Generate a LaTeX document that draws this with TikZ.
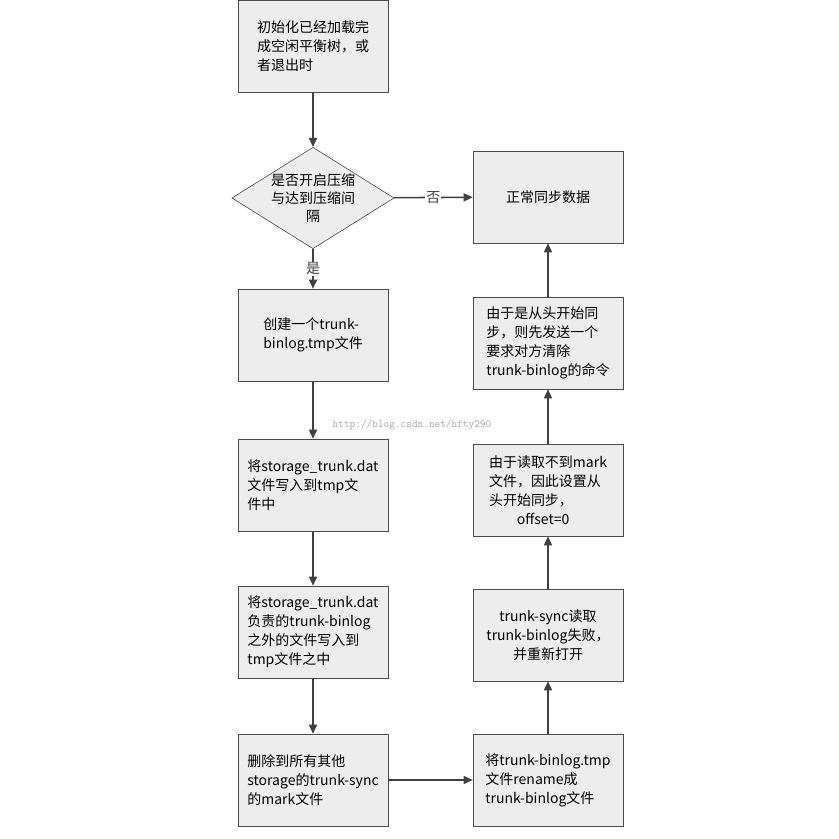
\documentclass[tikz,border=0pt]{standalone}
\usepackage{fontspec}
\setmainfont{Noto Sans CJK SC}
\usetikzlibrary{shapes.geometric,arrows.meta}
\begin{document}
\begin{tikzpicture}[x=1pt,y=-1pt,
  box/.style={draw=black!70,fill=black!7,minimum width=150pt,minimum height=92pt,align=left,font=\fontsize{14}{19}\selectfont,inner sep=4pt,line width=0.6pt},
  arr/.style={-{Triangle[length=9pt,width=8pt]},line width=1.6pt,black!75},
  lbl/.style={font=\fontsize{14}{16}\selectfont,fill=white,inner sep=1pt}]
\useasboundingbox (0,0) rectangle (839,839);
\node[box] (b1) at (313,46) {初始化已经加载完\\成空闲平衡树，或\\者退出时};
\node[draw=black!70,fill=black!7,diamond,aspect=1.6,minimum width=150pt,minimum height=96pt,inner sep=0pt,align=center,font=\fontsize{14}{18}\selectfont,line width=0.6pt] (d) at (313,198) {是否开启压缩\\与达到压缩间\\隔};
\node[box] (b2) at (313,335) {创建一个trunk-\\binlog.tmp文件};
\node[box] (b3) at (313,485) {将storage\_trunk.dat\\文件写入到tmp文\\件中};
\node[box] (b4) at (313,632) {将storage\_trunk.dat\\负责的trunk-binlog\\之外的文件写入到\\tmp文件之中};
\node[box] (b5) at (313,780) {删除到所有其他\\storage的trunk-sync\\的mark文件};
\node[box] (r5) at (548,780) {将trunk-binlog.tmp\\文件rename成\\trunk-binlog文件};
\node[box,align=center] (r4) at (548,635) {trunk-sync读取\\trunk-binlog失败，\\并重新打开};
\node[box] (r3) at (548,490) {由于读取不到mark\\文件，因此设置从\\头开始同步，\\\hspace*{2em}offset=0};
\node[box] (r2) at (548,343) {由于是从头开始同\\步，则先发送一个\\要求对方清除\\trunk-binlog的命令};
\node[box,align=center] (r1) at (548,197) {正常同步数据};
\node[text=black!35,font=\fontsize{11}{13}\ttfamily] (wm) at (412,425) {http://blog.csdn.net/hfty290};
\draw[arr] (b1) -- (d);
\draw[arr] (d) -- node[lbl]{是} (b2);
\draw[arr] (d) -- node[lbl]{否} (r1);
\draw[arr] (b2) -- (b3);
\draw[arr] (b3) -- (b4);
\draw[arr] (b4) -- (b5);
\draw[arr] (b5) -- (r5);
\draw[arr] (r5) -- (r4);
\draw[arr] (r4) -- (r3);
\draw[arr] (r3) -- (r2);
\draw[arr] (r2) -- (r1);
\end{tikzpicture}
\end{document}
